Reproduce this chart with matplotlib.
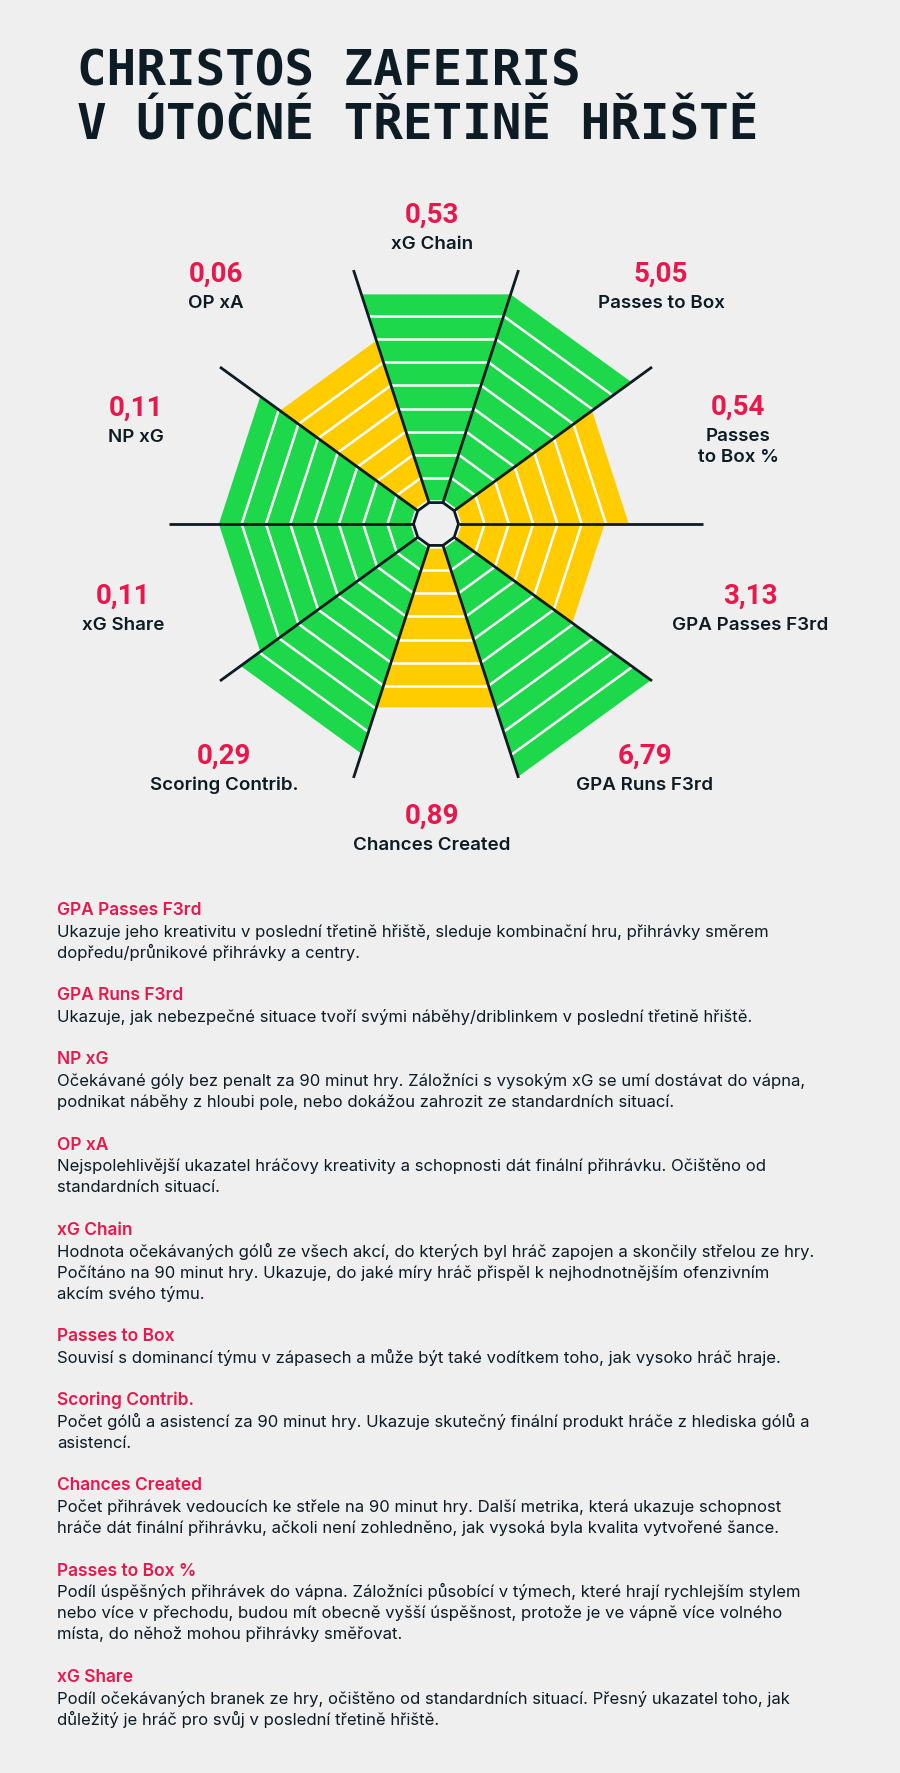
import numpy as np
import matplotlib
matplotlib.use('Agg')
import matplotlib.pyplot as plt
from matplotlib.patches import Polygon

# radar wedges, clockwise from the top
categories = ['xG Chain', 'Passes to Box', 'Passes to Box %', 'GPA Passes F3rd',
              'GPA Runs F3rd', 'Chances Created', 'Scoring Contrib.', 'xG Share',
              'NP xG', 'OP xA']
chart_names = ['xG Chain', 'Passes to Box', 'Passes\nto Box %', 'GPA Passes F3rd',
               'GPA Runs F3rd', 'Chances Created', 'Scoring Contrib.', 'xG Share',
               'NP xG', 'OP xA']
values = [0.53, 5.05, 0.54, 3.13, 6.79, 0.89, 0.29, 0.11, 0.11, 0.06]
ranks = [9, 9, 7, 6, 10, 7, 9, 8, 8, 7]   # decile rank 0-10 -> wedge length

# explanations under the chart
desc_titles = ['GPA Passes F3rd', 'GPA Runs F3rd', 'NP xG', 'OP xA', 'xG Chain',
               'Passes to Box', 'Scoring Contrib.', 'Chances Created',
               'Passes to Box %', 'xG Share']
desc_lines = [
    ['Ukazuje jeho kreativitu v poslední třetině hřiště, sleduje kombinační hru, přihrávky směrem',
     'dopředu/průnikové přihrávky a centry.'],
    ['Ukazuje, jak nebezpečné situace tvoří svými náběhy/driblinkem v poslední třetině hřiště.'],
    ['Očekávané góly bez penalt za 90 minut hry. Záložníci s vysokým xG se umí dostávat do vápna,',
     'podnikat náběhy z hloubi pole, nebo dokážou zahrozit ze standardních situací.'],
    ['Nejspolehlivější ukazatel hráčovy kreativity a schopnosti dát finální přihrávku. Očištěno od',
     'standardních situací.'],
    ['Hodnota očekávaných gólů ze všech akcí, do kterých byl hráč zapojen a skončily střelou ze hry.',
     'Počítáno na 90 minut hry. Ukazuje, do jaké míry hráč přispěl k nejhodnotnějším ofenzivním',
     'akcím svého týmu.'],
    ['Souvisí s dominancí týmu v zápasech a může být také vodítkem toho, jak vysoko hráč hraje.'],
    ['Počet gólů a asistencí za 90 minut hry. Ukazuje skutečný finální produkt hráče z hlediska gólů a',
     'asistencí.'],
    ['Počet přihrávek vedoucích ke střele na 90 minut hry. Další metrika, která ukazuje schopnost',
     'hráče dát finální přihrávku, ačkoli není zohledněno, jak vysoká byla kvalita vytvořené šance.'],
    ['Podíl úspěšných přihrávek do vápna. Záložníci působící v týmech, které hrají rychlejším stylem',
     'nebo více v přechodu, budou mít obecně vyšší úspěšnost, protože je ve vápně více volného',
     'místa, do něhož mohou přihrávky směřovat.'],
    ['Podíl očekávaných branek ze hry, očištěno od standardních situací. Přesný ukazatel toho, jak',
     'důležitý je hráč pro svůj v poslední třetině hřiště.'],
]

# label anchors (centre of the number, px from top-left), same order as categories
label_pos = [(432, 213), (661, 272), (738, 405), (750, 594), (645, 754),
             (432, 814), (224, 754), (123, 594), (136, 406), (216, 272)]

BG = '#efefef'
GREEN = '#1ed84c'
YELLOW = '#ffcc00'
RED = '#e8174c'
DARK = '#0d1b24'

W, H = 900, 1774
fig = plt.figure(figsize=(9, 17.74), dpi=100, facecolor=BG)


def px(x, y):
    return x / W, 1 - y / H


# title
fig.text(*px(77, 85), 'CHRISTOS ZAFEIRIS', family='DejaVu Sans Mono', weight='bold',
         fontsize=35.5, color=DARK, va='baseline')
fig.text(*px(77, 140), 'V ÚTOČNÉ TŘETINĚ HŘIŠTĚ', family='DejaVu Sans Mono', weight='bold',
         fontsize=35.5, color=DARK, va='baseline')

# chart
cx, cy = 436, 525
unit = 23.1
half = np.deg2rad(18)
ax = fig.add_axes([0, 1 - 880 / H, 1, 700 / H])
ax.set_xlim(-cx / unit, (W - cx) / unit)
ax.set_ylim(-(880 - cy) / unit, (cy - 180) / unit)
ax.axis('off')

for i, r in enumerate(ranks):
    mid = np.deg2rad(90 - 36 * i)
    a0, a1 = mid - half, mid + half
    outer = (r + 1 - 0.06) / np.cos(half)
    pts = [(0, 0), (outer * np.cos(a0), outer * np.sin(a0)),
           (outer * np.cos(a1), outer * np.sin(a1))]
    ax.add_patch(Polygon(pts, closed=True, fc=GREEN if r >= 8 else YELLOW, ec='none', zorder=1))
    for k in range(1, r + 1):
        rr = k / np.cos(half)
        ax.plot([rr * np.cos(a0), rr * np.cos(a1)], [rr * np.sin(a0), rr * np.sin(a1)],
                color='white', lw=1.8, solid_capstyle='butt', zorder=2)

hub = 22.5 / unit
spoke = 267 / unit
angs = np.deg2rad(np.arange(0, 360, 36))
for a in angs:
    ax.plot([hub * np.cos(a), spoke * np.cos(a)], [hub * np.sin(a), spoke * np.sin(a)],
            color=DARK, lw=2, solid_capstyle='butt', zorder=3)
ax.add_patch(Polygon(np.c_[hub * np.cos(angs), hub * np.sin(angs)], closed=True,
                     fc=BG, ec=DARK, lw=2, zorder=4))

# labels round the chart
for (x, y), v, name in zip(label_pos, values, chart_names):
    fig.text(*px(x, y + 10), f'{v:.2f}'.replace('.', ','), family='Roboto', weight='semibold',
             fontsize=20, color=RED, ha='center', va='baseline')
    for j, line in enumerate(name.split('\n')):
        fig.text(*px(x, y + 36 + 21.4 * j), line, family='Inter', weight='semibold',
                 fontsize=13.5, color=DARK, ha='center', va='baseline')

# descriptions
y = 909
for title, lines in zip(desc_titles, desc_lines):
    fig.text(*px(57, y + 6), title, family='Inter', weight='semibold', fontsize=12.5,
             color=RED, va='baseline')
    y += 21.7
    for line in lines:
        fig.text(*px(57, y + 6), line, family='Inter', fontsize=12, color=DARK, va='baseline')
        y += 21
    y += 21.5

fig.savefig('out.png', dpi=100, facecolor=BG)
